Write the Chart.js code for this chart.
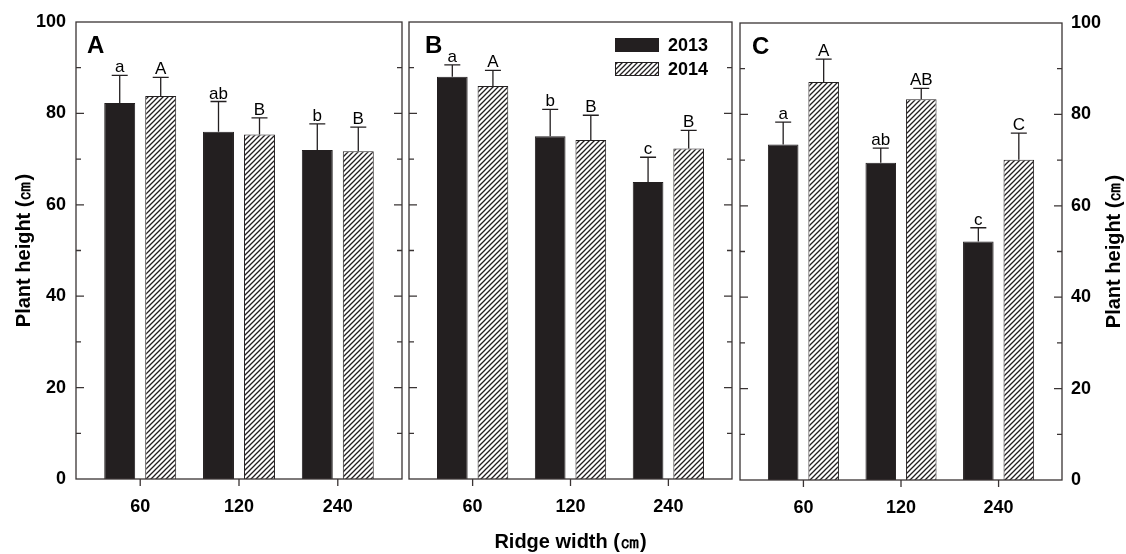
<!DOCTYPE html>
<html>
<head>
<meta charset="utf-8">
<script src="https://cdn.jsdelivr.net/npm/chart.js@4.4.1/dist/chart.umd.min.js"></script>
<style>
  body { margin: 0; background: #fff; }
  .panel { position: absolute; left: 0; top: 0; width: 1126px; height: 554px; }
</style>
</head>
<body>
<div class="panel"><canvas id="chartA"></canvas></div>
<div class="panel"><canvas id="chartB"></canvas></div>
<div class="panel"><canvas id="chartC"></canvas></div>
<script>
const ridgeWidths = ['60', '120', '240'];
const years = ['2013', '2014'];

// panel A
const heightA2013 = [82.3, 76.0, 72.0];
const heightA2014 = [83.8, 75.4, 71.7];
const errA2013 = [6.0, 6.6, 5.7];
const errA2014 = [4.1, 3.6, 5.3];
const lettersA2013 = ['a', 'ab', 'b'];
const lettersA2014 = ['A', 'B', 'B'];

// panel B
const heightB2013 = [88.0, 75.0, 65.0];
const heightB2014 = [86.0, 74.2, 72.3];
const errB2013 = [2.6, 5.9, 5.4];
const errB2014 = [3.4, 5.4, 4.0];
const lettersB2013 = ['a', 'b', 'c'];
const lettersB2014 = ['A', 'B', 'B'];

// panel C
const heightC2013 = [73.4, 69.4, 52.2];
const heightC2014 = [87.1, 83.3, 70.1];
const errC2013 = [4.9, 3.2, 3.0];
const errC2014 = [5.0, 2.4, 5.8];
const lettersC2013 = ['a', 'ab', 'c'];
const lettersC2014 = ['A', 'AB', 'C'];

const FONT = '"Liberation Sans", Arial, Helvetica, sans-serif';
const INK = '#231f20';
const FRAME = '#3a3434';
const yTitle = 'Plant height (㎝)';

// diagonal hatch for 2014 bars
function makeHatch() {
    const c = document.createElement('canvas');
    c.width = 5; c.height = 5;
    const g = c.getContext('2d');
    g.fillStyle = '#fff';
    g.fillRect(0, 0, 5, 5);
    g.strokeStyle = INK;
    g.lineWidth = 1.3;
    g.beginPath();
    g.moveTo(0, 5); g.lineTo(5, 0);
    g.moveTo(-1, 1); g.lineTo(1, -1);
    g.moveTo(4, 6); g.lineTo(6, 4);
    g.stroke();
    return g.createPattern(c, 'repeat');
}
const hatch = makeHatch();

// frame, ticks, error bars, letters, legend
const panelDecor = {
    id: 'panelDecor',
    afterDraw(chart, args, opts) {
        const ctx = chart.ctx;
        const area = chart.chartArea;
        const xs = chart.scales.x;
        const ys = chart.scales.y;
        ctx.save();

        chart.data.datasets.forEach((ds, di) => {
            const meta = chart.getDatasetMeta(di);
            meta.data.forEach((bar, i) => {
                const top = ys.getPixelForValue(ds.data[i].y + ds.errors[i]);
                ctx.strokeStyle = INK;
                ctx.lineWidth = 1.3;
                ctx.beginPath();
                ctx.moveTo(bar.x, bar.y);
                ctx.lineTo(bar.x, top);
                ctx.moveTo(bar.x - 8, top);
                ctx.lineTo(bar.x + 8, top);
                ctx.stroke();
                ctx.fillStyle = '#000';
                ctx.font = '17px ' + FONT;
                ctx.textAlign = 'center';
                ctx.textBaseline = 'alphabetic';
                ctx.fillText(ds.letters[i], bar.x, top - 3);
            });
        });

        ctx.strokeStyle = FRAME;
        ctx.lineWidth = 1.3;
        ctx.strokeRect(area.left, area.top, area.right - area.left, area.bottom - area.top);
        ctx.beginPath();
        for (let v = 10; v < 100; v += 10) {
            const py = ys.getPixelForValue(v);
            const len = v % 20 === 0 ? 8 : 5;
            ctx.moveTo(area.left, py); ctx.lineTo(area.left + len, py);
            ctx.moveTo(area.right, py); ctx.lineTo(area.right - len, py);
        }
        // category ticks below the axis, taken from the x scale's own ticks
        xs.ticks.forEach(t => {
            const px = xs.getPixelForValue(t.value);
            ctx.moveTo(px, area.bottom);
            ctx.lineTo(px, area.bottom + 7);
        });
        ctx.stroke();

        ctx.fillStyle = '#000';
        ctx.font = 'bold 24px ' + FONT;
        ctx.textAlign = 'left';
        ctx.textBaseline = 'alphabetic';
        ctx.fillText(opts.letter, area.left + opts.letterX, area.top + 31);

        if (opts.legend) {
            const lx = area.right - 117;
            const ly = area.top + 16;
            chart.data.datasets.forEach((ds, di) => {
                const by = ly + di * 24;
                ctx.fillStyle = ds.backgroundColor;
                ctx.fillRect(lx, by, 44, 14);
                ctx.strokeStyle = INK;
                ctx.lineWidth = 1;
                ctx.strokeRect(lx + 0.5, by + 0.5, 43, 13);
                ctx.fillStyle = '#000';
                ctx.font = 'bold 18px ' + FONT;
                ctx.textBaseline = 'middle';
                ctx.fillText(ds.label, lx + 53, by + 8);
            });
        }

        if (opts.rightTitle) {
            ctx.translate(area.right + 52, (area.top + area.bottom) / 2);
            ctx.rotate(-Math.PI / 2);
            ctx.fillStyle = '#000';
            ctx.font = 'bold 20px ' + FONT;
            ctx.textAlign = 'center';
            ctx.textBaseline = 'middle';
            ctx.fillText(yTitle, 0, 0);
        }
        ctx.restore();
    }
};

function makePanel(id, h2013, h2014, e2013, e2014, l2013, l2014, cfg) {
    const datasets = [
        {
            label: years[0],
            data: h2013.map((v, i) => ({ x: i, y: v })),
            errors: e2013,
            letters: l2013,
            backgroundColor: INK,
            borderColor: INK,
            borderWidth: 1
        },
        {
            label: years[1],
            data: h2014.map((v, i) => ({ x: i, y: v })),
            errors: e2014,
            letters: l2014,
            backgroundColor: hatch,
            borderColor: INK,
            borderWidth: 1
        }
    ];

    const yAxis = {
        min: 0,
        max: 100,
        position: cfg.yPosition,
        display: cfg.yShow,
        grid: { display: false, drawTicks: false },
        border: { display: false },
        ticks: {
            stepSize: 20,
            padding: cfg.yPad,
            color: '#000',
            font: { family: FONT, size: 18, weight: 'bold' }
        },
        title: {
            display: cfg.yTitle,
            text: yTitle,
            color: '#000',
            font: { family: FONT, size: 20, weight: 'bold' },
            padding: { top: 12, bottom: 0 }
        },
        afterFit: s => { s.width = cfg.yWidth; }
    };

    return new Chart(document.getElementById(id), {
        type: 'bar',
        data: { datasets: datasets },
        options: {
            responsive: true,
            maintainAspectRatio: false,
            animation: false,
            categoryPercentage: 0.83,
            barPercentage: 0.755,
            layout: { padding: cfg.padding },
            scales: {
                x: {
                    type: 'linear',
                    min: -0.65,
                    max: 2.65,
                    offset: false,
                    afterBuildTicks: s => { s.ticks = ridgeWidths.map((_, i) => ({ value: i })); },
                    grid: { display: false, drawTicks: false },
                    border: { display: false },
                    ticks: {
                        padding: 17,
                        color: '#000',
                        font: { family: FONT, size: 18, weight: 'bold' },
                        callback: v => ridgeWidths[v]
                    },
                    title: {
                        display: cfg.xTitle,
                        text: 'Ridge width (㎝)',
                        color: '#000',
                        font: { family: FONT, size: 20, weight: 'bold' },
                        padding: { top: 0, bottom: 0 }
                    },
                    afterFit: s => { s.height = cfg.xHeight; }
                },
                y: yAxis
            },
            plugins: {
                legend: { display: false },
                tooltip: { enabled: false },
                panelDecor: cfg.decor
            }
        },
        plugins: [panelDecor]
    });
}

makePanel('chartA', heightA2013, heightA2014, errA2013, errA2014, lettersA2013, lettersA2014, {
    padding: { left: 0, right: 724, top: 22, bottom: 0 },
    yPosition: 'left', yShow: true, yTitle: true, yPad: 10, yWidth: 76,
    xTitle: false, xHeight: 75,
    decor: { letter: 'A', letterX: 11 }
});

makePanel('chartB', heightB2013, heightB2014, errB2013, errB2014, lettersB2013, lettersB2014, {
    padding: { left: 409, right: 394, top: 22, bottom: 0 },
    yPosition: 'left', yShow: false, yTitle: false, yPad: 10, yWidth: 0,
    xTitle: true, xHeight: 75,
    decor: { letter: 'B', letterX: 16, legend: true }
});

makePanel('chartC', heightC2013, heightC2014, errC2013, errC2014, lettersC2013, lettersC2014, {
    padding: { left: 740, right: 0, top: 23, bottom: 0 },
    yPosition: 'right', yShow: true, yTitle: false, yPad: 9, yWidth: 64,
    xTitle: false, xHeight: 74,
    decor: { letter: 'C', letterX: 12, rightTitle: true }
});
</script>
</body>
</html>
